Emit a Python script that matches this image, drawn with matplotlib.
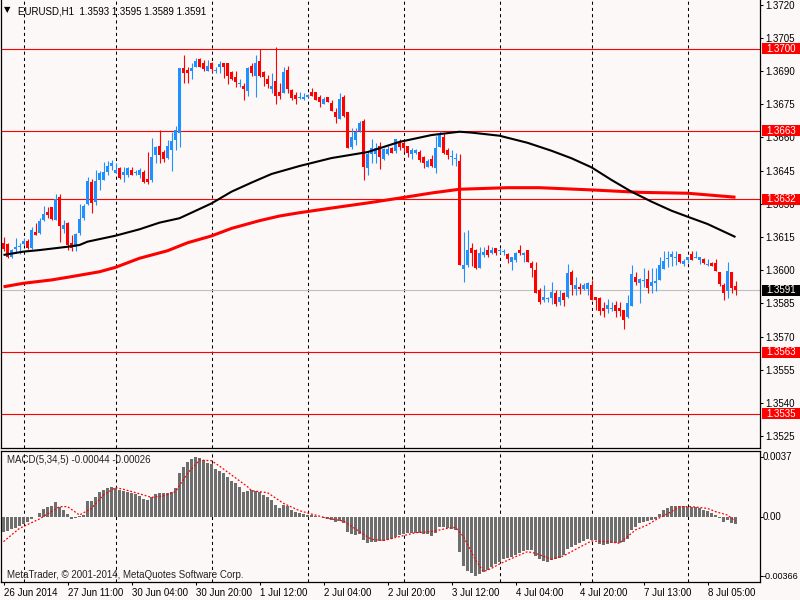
import matplotlib
matplotlib.use("Agg")
import matplotlib.pyplot as plt
import matplotlib.transforms as mtransforms
from matplotlib.patches import Rectangle
import numpy as np

# ---------------- data (EURUSD H1) ----------------
opens = [1.36121, 1.36118, 1.36060, 1.36097, 1.36106, 1.36118, 1.36134, 1.36100, 1.36173, 1.36170,
         1.36227, 1.36263, 1.36284, 1.36227, 1.36329, 1.36186, 1.36212, 1.36121, 1.36106, 1.36167,
         1.36234, 1.36299, 1.36400, 1.36310, 1.36408, 1.36408, 1.36445, 1.36470, 1.36441, 1.36460,
         1.36430, 1.36430, 1.36453, 1.36440, 1.36430, 1.36445, 1.36411, 1.36408, 1.36521, 1.36561,
         1.36536, 1.36506, 1.36543, 1.36589, 1.36622, 1.36914, 1.36905, 1.36902, 1.36920, 1.36953,
         1.36935, 1.36902, 1.36935, 1.36901, 1.36920, 1.36935, 1.36935, 1.36896, 1.36872, 1.36843,
         1.36833, 1.36812, 1.36923, 1.36878, 1.36944, 1.36898, 1.36863, 1.36818, 1.36857, 1.36807,
         1.36803, 1.36905, 1.36815, 1.36792, 1.36777, 1.36772, 1.36784, 1.36804, 1.36804, 1.36781,
         1.36751, 1.36781, 1.36757, 1.36717, 1.36682, 1.36781, 1.36714, 1.36558, 1.36589, 1.36631,
         1.36673, 1.36461, 1.36525, 1.36525, 1.36561, 1.36501, 1.36525, 1.36551, 1.36540, 1.36581,
         1.36574, 1.36561, 1.36525, 1.36531, 1.36536, 1.36510, 1.36468, 1.36501, 1.36461, 1.36555,
         1.36601, 1.36543, 1.36510, 1.36501, 1.36495, 1.36005, 1.36024, 1.36099, 1.36091, 1.36008,
         1.36069, 1.36091, 1.36079, 1.36099, 1.36087, 1.36081, 1.36073, 1.36039, 1.36046, 1.36091,
         1.36069, 1.36091, 1.36034, 1.36000, 1.35910, 1.35865, 1.35868, 1.35873, 1.35895, 1.35858,
         1.35895, 1.35880, 1.35993, 1.35914, 1.35926, 1.35914, 1.35914, 1.35933, 1.35880, 1.35873,
         1.35831, 1.35823, 1.35826, 1.35843, 1.35831, 1.35820, 1.35787, 1.35838, 1.35971, 1.35941,
         1.35951, 1.35959, 1.35929, 1.35941, 1.35956, 1.36004, 1.36049, 1.36058, 1.36057, 1.36073,
         1.36028, 1.36046, 1.36073, 1.36057, 1.36046, 1.36049, 1.36023, 1.36034, 1.36034, 1.35993,
         1.35933, 1.35907, 1.35993, 1.35930]
highs = [1.36149, 1.36124, 1.36094, 1.36144, 1.36124, 1.36144, 1.36140, 1.36194, 1.36212, 1.36234,
         1.36290, 1.36284, 1.36286, 1.36344, 1.36344, 1.36227, 1.36219, 1.36159, 1.36167, 1.36299,
         1.36299, 1.36423, 1.36411, 1.36453, 1.36450, 1.36490, 1.36495, 1.36498, 1.36483, 1.36468,
         1.36468, 1.36468, 1.36468, 1.36453, 1.36464, 1.36453, 1.36536, 1.36596, 1.36561, 1.36635,
         1.36543, 1.36589, 1.36626, 1.36652, 1.36914, 1.36973, 1.36920, 1.36935, 1.36958, 1.36958,
         1.36950, 1.36950, 1.36943, 1.36920, 1.36947, 1.36938, 1.36938, 1.36902, 1.36902, 1.36863,
         1.36845, 1.36917, 1.36938, 1.36973, 1.36999, 1.36902, 1.36883, 1.36893, 1.37008, 1.36845,
         1.36920, 1.36923, 1.36818, 1.36807, 1.36807, 1.36803, 1.36797, 1.36822, 1.36804, 1.36792,
         1.36781, 1.36781, 1.36769, 1.36732, 1.36802, 1.36792, 1.36714, 1.36641, 1.36641, 1.36676,
         1.36682, 1.36540, 1.36592, 1.36574, 1.36581, 1.36551, 1.36561, 1.36558, 1.36592, 1.36592,
         1.36586, 1.36561, 1.36551, 1.36546, 1.36543, 1.36516, 1.36501, 1.36521, 1.36607, 1.36631,
         1.36619, 1.36551, 1.36543, 1.36531, 1.36525, 1.36174, 1.36182, 1.36121, 1.36094, 1.36103,
         1.36103, 1.36114, 1.36103, 1.36099, 1.36099, 1.36094, 1.36079, 1.36061, 1.36084, 1.36114,
         1.36084, 1.36091, 1.36043, 1.36039, 1.35918, 1.35933, 1.35880, 1.35948, 1.35910, 1.35910,
         1.35903, 1.36028, 1.36001, 1.35971, 1.35941, 1.35941, 1.35948, 1.35955, 1.35880, 1.35880,
         1.35858, 1.35868, 1.35858, 1.35862, 1.35858, 1.35820, 1.35887, 1.36023, 1.35993, 1.35963,
         1.36008, 1.36001, 1.36008, 1.36008, 1.36061, 1.36088, 1.36088, 1.36088, 1.36088, 1.36073,
         1.36049, 1.36061, 1.36088, 1.36088, 1.36061, 1.36054, 1.36049, 1.36039, 1.36049, 1.35993,
         1.35941, 1.36039, 1.35993, 1.35950]
lows = [1.36088, 1.36055, 1.36055, 1.36079, 1.36073, 1.36114, 1.36095, 1.36094, 1.36159, 1.36164,
        1.36224, 1.36234, 1.36227, 1.36227, 1.36129, 1.36167, 1.36091, 1.36088, 1.36088, 1.36159,
        1.36227, 1.36295, 1.36260, 1.36295, 1.36363, 1.36408, 1.36430, 1.36453, 1.36438, 1.36411,
        1.36400, 1.36423, 1.36430, 1.36430, 1.36419, 1.36396, 1.36390, 1.36400, 1.36483, 1.36483,
        1.36491, 1.36501, 1.36450, 1.36543, 1.36559, 1.36845, 1.36845, 1.36863, 1.36917, 1.36917,
        1.36902, 1.36902, 1.36893, 1.36890, 1.36893, 1.36869, 1.36842, 1.36860, 1.36827, 1.36827,
        1.36769, 1.36787, 1.36878, 1.36781, 1.36872, 1.36833, 1.36822, 1.36803, 1.36751, 1.36772,
        1.36799, 1.36803, 1.36769, 1.36751, 1.36772, 1.36769, 1.36781, 1.36789, 1.36769, 1.36739,
        1.36751, 1.36762, 1.36721, 1.36664, 1.36682, 1.36694, 1.36551, 1.36548, 1.36566, 1.36626,
        1.36408, 1.36430, 1.36486, 1.36483, 1.36459, 1.36498, 1.36521, 1.36528, 1.36531, 1.36543,
        1.36536, 1.36510, 1.36504, 1.36525, 1.36491, 1.36461, 1.36468, 1.36465, 1.36441, 1.36555,
        1.36525, 1.36504, 1.36476, 1.36471, 1.36022, 1.35948, 1.36016, 1.36019, 1.36004, 1.36008,
        1.36061, 1.36061, 1.36073, 1.36069, 1.36076, 1.36069, 1.36031, 1.36001, 1.36039, 1.36069,
        1.36039, 1.36039, 1.35971, 1.35895, 1.35847, 1.35858, 1.35858, 1.35847, 1.35838, 1.35843,
        1.35838, 1.35873, 1.35888, 1.35888, 1.35892, 1.35910, 1.35888, 1.35865, 1.35820, 1.35797,
        1.35787, 1.35805, 1.35817, 1.35787, 1.35793, 1.35736, 1.35782, 1.35838, 1.35933, 1.35853,
        1.35926, 1.35898, 1.35898, 1.35907, 1.35956, 1.36004, 1.36016, 1.36019, 1.36024, 1.36034,
        1.36019, 1.36031, 1.36046, 1.36054, 1.36028, 1.36028, 1.36019, 1.36019, 1.35998, 1.35929,
        1.35865, 1.35876, 1.35895, 1.35890]
closes = [1.36094, 1.36060, 1.36091, 1.36103, 1.36109, 1.36134, 1.36100, 1.36182, 1.36161, 1.36224,
          1.36254, 1.36249, 1.36233, 1.36320, 1.36199, 1.36204, 1.36114, 1.36099, 1.36164, 1.36230,
          1.36290, 1.36403, 1.36302, 1.36403, 1.36438, 1.36445, 1.36470, 1.36485, 1.36453, 1.36419,
          1.36445, 1.36460, 1.36430, 1.36442, 1.36455, 1.36400, 1.36400, 1.36513, 1.36555, 1.36521,
          1.36501, 1.36561, 1.36586, 1.36635, 1.36914, 1.36890, 1.36890, 1.36913, 1.36947, 1.36920,
          1.36911, 1.36923, 1.36911, 1.36903, 1.36932, 1.36920, 1.36878, 1.36863, 1.36852, 1.36848,
          1.36818, 1.36914, 1.36890, 1.36938, 1.36878, 1.36872, 1.36842, 1.36833, 1.36787, 1.36787,
          1.36898, 1.36818, 1.36777, 1.36772, 1.36784, 1.36781, 1.36790, 1.36789, 1.36769, 1.36762,
          1.36774, 1.36762, 1.36721, 1.36691, 1.36772, 1.36697, 1.36551, 1.36601, 1.36626, 1.36664,
          1.36468, 1.36525, 1.36551, 1.36551, 1.36510, 1.36546, 1.36546, 1.36531, 1.36592, 1.36558,
          1.36551, 1.36528, 1.36543, 1.36543, 1.36498, 1.36483, 1.36495, 1.36471, 1.36551, 1.36616,
          1.36531, 1.36521, 1.36511, 1.36502, 1.36022, 1.36024, 1.36091, 1.36079, 1.36008, 1.36079,
          1.36084, 1.36069, 1.36091, 1.36079, 1.36089, 1.36083, 1.36049, 1.36058, 1.36079, 1.36076,
          1.36079, 1.36039, 1.36008, 1.35898, 1.35858, 1.35880, 1.35869, 1.35903, 1.35847, 1.35880,
          1.35865, 1.35986, 1.35933, 1.35933, 1.35914, 1.35933, 1.35944, 1.35865, 1.35865, 1.35816,
          1.35817, 1.35843, 1.35827, 1.35817, 1.35817, 1.35775, 1.35853, 1.35983, 1.35948, 1.35959,
          1.35953, 1.35918, 1.35948, 1.35953, 1.36024, 1.36043, 1.36050, 1.36073, 1.36058, 1.36039,
          1.36043, 1.36058, 1.36046, 1.36058, 1.36058, 1.36031, 1.36024, 1.36019, 1.35998, 1.35938,
          1.35898, 1.35998, 1.35918, 1.35910]

# moving averages read at sample bars
ma_black_bars = [0, 5, 9, 16, 19, 21, 28, 34, 39, 44, 47, 52, 57, 62, 67, 74, 82, 91, 99, 107,
                 114, 117, 124, 131, 137, 142, 147, 152, 157, 162, 167, 171, 176, 183]
ma_black_vals = [1.36069, 1.36084, 1.36091, 1.36106, 1.36114, 1.36129, 1.36156, 1.36185, 1.36215,
                 1.36235, 1.36260, 1.36302, 1.36355, 1.36396, 1.36435, 1.36471, 1.36507, 1.36534,
                 1.36580, 1.36611, 1.36626, 1.36622, 1.36608, 1.36576, 1.36540, 1.36506, 1.36465,
                 1.36408, 1.36355, 1.36310, 1.36269, 1.36242, 1.36209, 1.36150]
ma_red_bars = [0, 5, 12, 17, 24, 28, 34, 41, 46, 52, 57, 64, 69, 74, 82, 91, 99, 107, 114, 126,
               134, 147, 159, 171, 183]
ma_red_vals = [1.35925, 1.35941, 1.35956, 1.35971, 1.35993, 1.36013, 1.36054, 1.36088, 1.36124,
               1.36155, 1.36189, 1.36224, 1.36245, 1.36260, 1.36281, 1.36304, 1.36326, 1.36349,
               1.36366, 1.36373, 1.36373, 1.36363, 1.36352, 1.36348, 1.36330]

# MACD(5,34,5) histogram, one value per bar
macd_hist = [-0.00095, -0.00086, -0.00076, -0.00070, -0.00055, -0.00043, -0.00029, -0.00014, -0.00002, 0.00023,
             0.00049, 0.00060, 0.00068, 0.00092, 0.00064, 0.00043, 0.00018, -0.00014, -0.00008, 0.00006,
             0.00012, 0.00097, 0.00099, 0.00125, 0.00156, 0.00166, 0.00181, 0.00187, 0.00181, 0.00166,
             0.00162, 0.00156, 0.00146, 0.00140, 0.00132, 0.00109, 0.00105, 0.00125, 0.00142, 0.00146,
             0.00146, 0.00150, 0.00156, 0.00181, 0.00269, 0.00310, 0.00341, 0.00356, 0.00368, 0.00362,
             0.00351, 0.00335, 0.00327, 0.00296, 0.00286, 0.00273, 0.00249, 0.00224, 0.00208, 0.00187,
             0.00156, 0.00162, 0.00166, 0.00162, 0.00156, 0.00136, 0.00121, 0.00105, 0.00074, 0.00053,
             0.00074, 0.00068, 0.00043, 0.00033, 0.00023, 0.00018, 0.00012, 0.00012, 0.00006, -0.00002,
             -0.00004, -0.00010, -0.00018, -0.00029, -0.00025, -0.00039, -0.00090, -0.00107, -0.00111, -0.00107,
             -0.00142, -0.00158, -0.00154, -0.00152, -0.00148, -0.00146, -0.00142, -0.00136, -0.00121, -0.00111,
             -0.00105, -0.00101, -0.00097, -0.00097, -0.00101, -0.00107, -0.00107, -0.00115, -0.00097, -0.00060,
             -0.00064, -0.00070, -0.00076, -0.00080, -0.00214, -0.00302, -0.00331, -0.00343, -0.00366, -0.00354,
             -0.00337, -0.00327, -0.00306, -0.00290, -0.00275, -0.00261, -0.00255, -0.00249, -0.00234, -0.00220,
             -0.00208, -0.00203, -0.00203, -0.00240, -0.00261, -0.00269, -0.00275, -0.00265, -0.00261, -0.00255,
             -0.00234, -0.00199, -0.00187, -0.00173, -0.00158, -0.00146, -0.00138, -0.00142, -0.00142, -0.00166,
             -0.00173, -0.00166, -0.00162, -0.00162, -0.00162, -0.00152, -0.00138, -0.00080, -0.00064, -0.00039,
             -0.00029, -0.00025, -0.00018, -0.00014, 0.00018, 0.00043, 0.00053, 0.00068, 0.00068, 0.00068,
             0.00068, 0.00064, 0.00064, 0.00060, 0.00053, 0.00043, 0.00039, 0.00027, 0.00012, -0.00008,
             -0.00029, -0.00018, -0.00035, -0.00044]
signal_bars = [0, 4, 9, 14, 16, 19, 22, 25, 28, 30, 33, 37, 40, 43, 46, 49, 52, 54, 57, 61, 62, 66,
               70, 74, 77, 81, 85, 89, 92, 95, 99, 103, 107, 111, 113, 115, 118, 120, 122, 124, 128,
               131, 133, 137, 140, 144, 147, 151, 154, 158, 161, 163, 167, 169, 172, 176, 178, 181, 183]
signal_vals = [-0.00152, -0.00070, -0.00012, 0.00064, 0.00064, 0.00012, 0.00053, 0.00136, 0.00181,
               0.00171, 0.00150, 0.00121, 0.00130, 0.00156, 0.00269, 0.00351, 0.00347, 0.00314,
               0.00259, 0.00187, 0.00162, 0.00150, 0.00084, 0.00039, 0.00018, -0.00008, -0.00025,
               -0.00090, -0.00138, -0.00145, -0.00121, -0.00097, -0.00090, -0.00070, -0.00064,
               -0.00121, -0.00265, -0.00337, -0.00317, -0.00290, -0.00245, -0.00214, -0.00224,
               -0.00261, -0.00240, -0.00187, -0.00148, -0.00152, -0.00162, -0.00080, -0.00049,
               -0.00018, 0.00033, 0.00064, 0.00064, 0.00053, 0.00033, 0.00012, -0.00026]

level_lines = [1.3700, 1.3663, 1.3632, 1.3563, 1.3535]
bid_price = 1.3591
day_start_bars = [5, 28, 52, 76, 100, 124, 147, 171]
date_tick_bars = [0, 16, 32, 48, 64, 80, 96, 112, 128, 144, 160, 176]
date_tick_labels = ['26 Jun 2014', '27 Jun 11:00', '30 Jun 04:00', '30 Jun 20:00', '1 Jul 12:00',
                    '2 Jul 04:00', '2 Jul 20:00', '3 Jul 12:00', '4 Jul 04:00', '4 Jul 20:00',
                    '7 Jul 13:00', '8 Jul 05:00']
price_ticks = [1.3525, 1.3540, 1.3555, 1.3570, 1.3585, 1.3600, 1.3615, 1.3630, 1.3645,
               1.3660, 1.3675, 1.3690, 1.3705, 1.3720]
macd_ticks = [0.0037, 0.0, -0.00366]
macd_tick_labels = ['0.0037', '0.00', '-0.00366']
title_text = 'EURUSD,H1  1.3593 1.3595 1.3589 1.3591'
macd_text = 'MACD(5,34,5) -0.00044 -0.00026'
copyright_text = 'MetaTrader, \u00a9 2001-2014, MetaQuotes Software Corp.'

# ---------------- style ----------------
BG = '#fcf8f8'
BULL = '#1e90ff'
BEAR = '#ff0000'
FS = 7.0
plt.rcParams['font.family'] = ['Liberation Sans', 'DejaVu Sans']
plt.rcParams['font.size'] = FS

W, H = 800, 600
fig = plt.figure(figsize=(8, 6), dpi=100, facecolor=BG)

def fx(px):
    return px / W

def fy(py):
    return 1 - py / H

ax = fig.add_axes([fx(1), fy(448), fx(759), 448 / H], facecolor=BG)
axm = fig.add_axes([fx(1), fy(582), fx(759), 131 / H], facecolor=BG)

n = len(closes)
x = np.arange(n)
O = np.array(opens); C = np.array(closes); Hh = np.array(highs); L = np.array(lows)
bull = C >= O
cols = np.where(bull, BULL, BEAR)

xlim = (-0.625, -0.625 + 759 / 4)
ax.set_xlim(*xlim)
axm.set_xlim(*xlim)
ax.set_ylim(1.351963, 1.372215)
axm.set_ylim(-0.00401, 0.00407)

# grid (day separators)
for a in (ax, axm):
    for b in day_start_bars:
        a.axvline(b, color='black', lw=0.75, ls=(0, (3, 3)), zorder=1)

# level lines
for lv in level_lines:
    ax.axhline(lv, color='red', lw=0.8, zorder=1.5)
ax.axhline(bid_price, color='#c0c0c0', lw=0.8, zorder=1.5)

# candles
ax.vlines(x, L, Hh, colors=cols, lw=0.8, zorder=3)
body_bottom = np.minimum(O, C)
body_h = np.maximum(np.abs(C - O), 0.000045)
ax.bar(x, body_h, bottom=body_bottom, width=0.75, color=cols, linewidth=0, zorder=3.5)

# moving averages
ax.plot(ma_red_bars, ma_red_vals, color='red', lw=2.2, zorder=4, solid_capstyle='butt')
ax.plot(ma_black_bars, ma_black_vals, color='black', lw=1.5, zorder=4.5, solid_capstyle='butt')

# MACD
axm.bar(x, macd_hist, width=0.75, color='#6e6e6e', linewidth=0, zorder=3)
axm.plot(signal_bars, signal_vals, color='red', lw=0.9, ls=(0, (1.5, 1.5)), zorder=4)

# axes styling
for a in (ax, axm):
    a.yaxis.tick_right()
    a.tick_params(axis='y', direction='out', length=2.5, width=0.75, pad=1.5, colors='black',
                  labelsize=FS)
    for s in a.spines.values():
        s.set_color('black')
        s.set_linewidth(0.9)
ax.spines['top'].set_visible(False)
ax.set_xticks([])
ax.set_yticks(price_ticks)
ax.set_yticklabels(['%.4f' % v for v in price_ticks])

# MACD scale: ticks on the axis, labels placed as texts so the long one fits the edge
axm.set_yticks(macd_ticks)
axm.set_yticklabels([''] * len(macd_ticks))
mtrans = mtransforms.blended_transform_factory(fig.transFigure, axm.transData)
for v, s in zip(macd_ticks, macd_tick_labels):
    axm.text(fx(763), v, s, transform=mtrans, ha='left', va='center',
             fontsize=6.5 if len(s) > 6 else FS, clip_on=False)

axm.set_xticks(date_tick_bars)
axm.set_xticklabels(date_tick_labels)
axm.tick_params(axis='x', direction='out', length=2.5, width=0.75, pad=2, labelsize=FS)
for lbl in axm.get_xticklabels():
    lbl.set_horizontalalignment('left')

# price boxes on the right scale
trans = mtransforms.blended_transform_factory(fig.transFigure, ax.transData)
box_h = 11 / (448 / (1.372215 - 1.351963))
for lv, fc in [(l, 'red') for l in level_lines] + [(bid_price, 'black')]:
    ax.add_patch(Rectangle((fx(762), lv - box_h / 2), fx(38), box_h, transform=trans,
                           facecolor=fc, edgecolor='none', clip_on=False, zorder=10))
    ax.text(fx(766), lv, '%.4f' % lv, transform=trans, color='white', ha='left', va='center',
            fontsize=FS, zorder=11, clip_on=False)

# texts
fig.text(fx(4), fy(10), '\u25bc', fontsize=6, family='DejaVu Sans', ha='left', va='center')
fig.text(fx(18), fy(11), title_text, ha='left', va='center', fontsize=FS)
fig.text(fx(7), fy(460), macd_text, ha='left', va='center', fontsize=FS, color='#222222')
fig.text(fx(7), fy(575), copyright_text, ha='left', va='center', fontsize=FS, color='#222222')

fig.savefig('out.png', dpi=100, facecolor=BG)
